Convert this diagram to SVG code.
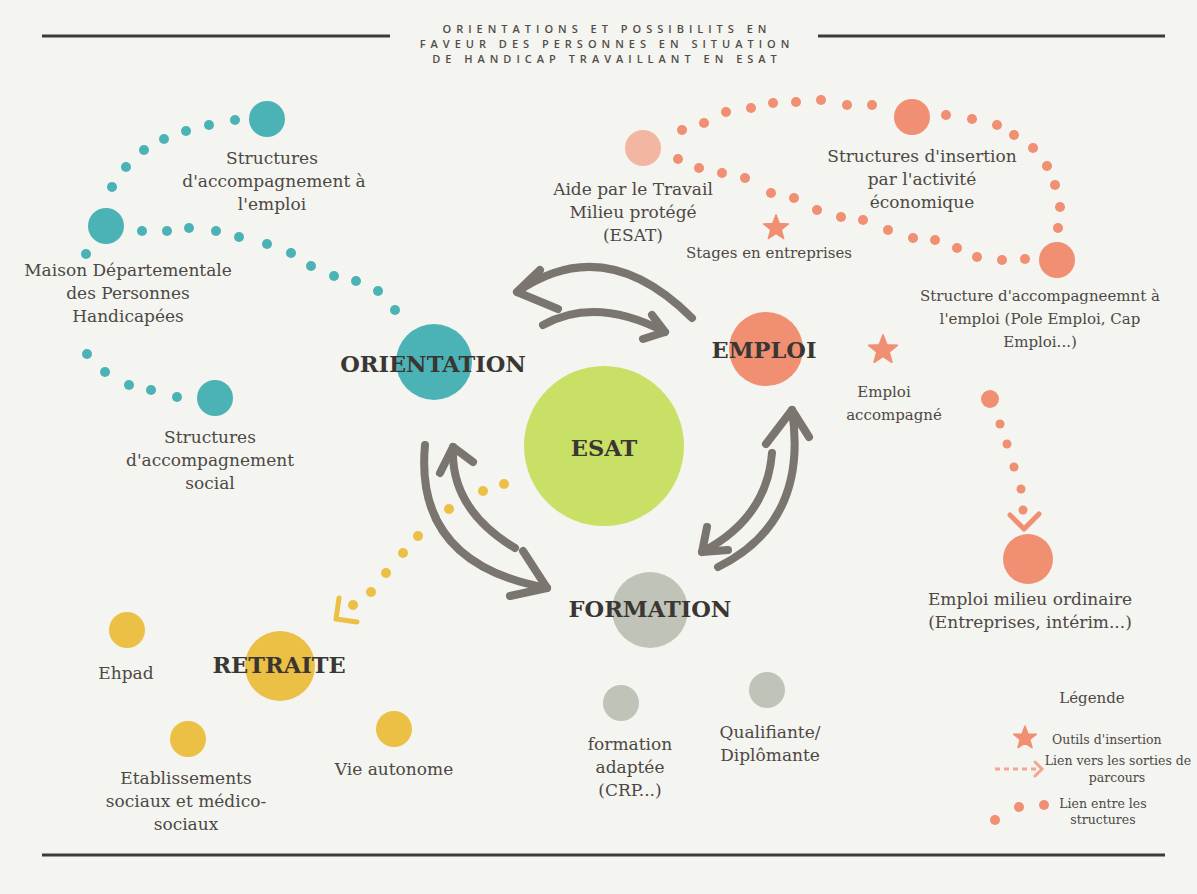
<svg xmlns="http://www.w3.org/2000/svg" width="1197" height="894" viewBox="0 0 1197 894">
<style>
.lbl{font-family:"DejaVu Serif","Liberation Serif",serif;font-size:17px;fill:#4d4844;text-anchor:middle}
.sm{font-size:15px}
.big{font-family:"DejaVu Serif","Liberation Serif",serif;font-size:22.5px;font-weight:bold;fill:#3a3633;text-anchor:middle}
.ttl{font-family:"Open Sans","Liberation Sans",sans-serif;font-size:11px;font-weight:600;fill:#524d49;text-anchor:middle;letter-spacing:5px}
.leg{font-family:"DejaVu Serif","Liberation Serif",serif;font-size:12.5px;fill:#4d4844}
.rule{stroke:#3d3a37;stroke-width:3}
.teal{fill:#4bb3b6}
.orange{fill:#f08f72}
.pale{fill:#f2b6a2}
.yellow{fill:#ecbf45}
.green{fill:#c9e066}
.grey{fill:#c0c3b8}
.arr{fill:none;stroke:#7a756f;stroke-width:8;stroke-linecap:round;stroke-linejoin:round}
.chev{fill:none;stroke-width:5;stroke-linecap:round;stroke-linejoin:round}
</style>
<defs>
<path id="star" d="M0,-10 L2.47,-3.4 L9.51,-3.09 L3.99,1.3 L5.88,8.09 L0,4.2 L-5.88,8.09 L-3.99,1.3 L-9.51,-3.09 L-2.47,-3.4 Z" fill="#f08f72" stroke="#f08f72" stroke-width="1.2" stroke-linejoin="round"/>
</defs>
<rect width="1197" height="894" fill="#f4f4f0"/>

<g id="title">
<line class="rule" x1="42" y1="36" x2="390" y2="36"/>
<line class="rule" x1="818" y1="36" x2="1165" y2="36"/>
<line class="rule" x1="42" y1="855" x2="1165" y2="855"/>
<text class="ttl" x="607" y="33">ORIENTATIONS ET POSSIBILITS EN</text>
<text class="ttl" x="607" y="48">FAVEUR DES PERSONNES EN SITUATION</text>
<text class="ttl" x="607" y="63">DE HANDICAP TRAVAILLANT EN ESAT</text>
</g>

<g id="connectors">
<g id="teal-dots" class="teal">
<circle cx="112" cy="187" r="5"/><circle cx="126" cy="167" r="5"/><circle cx="144" cy="150" r="5"/><circle cx="164" cy="139" r="5"/><circle cx="186" cy="131" r="5"/><circle cx="209" cy="125" r="5"/><circle cx="235" cy="120" r="5"/>
<circle cx="86" cy="254" r="5"/>
<circle cx="142" cy="231" r="5"/><circle cx="167" cy="231" r="5"/><circle cx="189" cy="228" r="5"/><circle cx="216" cy="231" r="5"/><circle cx="239" cy="237" r="5"/><circle cx="267" cy="244" r="5"/><circle cx="291" cy="253" r="5"/><circle cx="311" cy="266" r="5"/><circle cx="334" cy="276" r="5"/><circle cx="356" cy="281" r="5"/><circle cx="378" cy="291" r="5"/><circle cx="395" cy="310" r="5"/>
<circle cx="87" cy="354" r="5"/><circle cx="105" cy="372" r="5"/><circle cx="129" cy="385" r="5"/><circle cx="151" cy="390" r="5"/><circle cx="177" cy="397" r="5"/>
</g>
<g id="orange-dots" class="orange">
<circle cx="682" cy="130" r="5"/><circle cx="704" cy="123" r="5"/><circle cx="726" cy="112" r="5"/><circle cx="751" cy="108" r="5"/><circle cx="773" cy="103" r="5"/><circle cx="796" cy="102" r="5"/><circle cx="821" cy="100" r="5"/><circle cx="847" cy="105" r="5"/><circle cx="872" cy="105" r="5"/>
<circle cx="946" cy="115" r="5"/><circle cx="972" cy="119" r="5"/><circle cx="997" cy="125" r="5"/><circle cx="1014" cy="135" r="5"/><circle cx="1033" cy="148" r="5"/><circle cx="1047" cy="166" r="5"/><circle cx="1055" cy="185" r="5"/><circle cx="1060" cy="207" r="5"/><circle cx="1058" cy="228" r="5"/>
<circle cx="678" cy="159" r="5"/><circle cx="699" cy="168" r="5"/><circle cx="722" cy="173" r="5"/><circle cx="745" cy="178" r="5"/><circle cx="771" cy="193" r="5"/><circle cx="794" cy="198" r="5"/><circle cx="817" cy="210" r="5"/><circle cx="841" cy="217" r="5"/><circle cx="863" cy="220" r="5"/><circle cx="888" cy="230" r="5"/><circle cx="913" cy="238" r="5"/><circle cx="935" cy="240" r="5"/><circle cx="957" cy="248" r="5"/><circle cx="977" cy="257" r="5"/><circle cx="1002" cy="260" r="5"/><circle cx="1025" cy="259" r="5"/>
<circle cx="990" cy="399" r="9"/><circle cx="1000" cy="424" r="4.5"/><circle cx="1007" cy="444" r="4.5"/><circle cx="1014" cy="467" r="4.5"/><circle cx="1021" cy="489" r="4.5"/><circle cx="1023" cy="510" r="4.5"/>
</g>
<polyline class="chev" stroke="#f08f72" points="1010,515 1024,529 1039,514"/>
<g id="yellow-dots" class="yellow">
<circle cx="504" cy="484" r="5"/><circle cx="483" cy="491" r="5"/><circle cx="449" cy="509" r="5"/><circle cx="418" cy="536" r="5"/><circle cx="403" cy="553" r="5"/><circle cx="386" cy="573" r="5"/><circle cx="371" cy="592" r="5"/><circle cx="353" cy="605" r="5"/>
</g>
<polyline class="chev" stroke="#ecbf45" points="339,598 336,619 357,622"/>
<g id="cycle-arrows">
<path class="arr" d="M692,318 Q605,231 517,292"/>
<polyline class="arr" points="540,270 517,292 558,309"/>
<path class="arr" d="M543,325 Q596,296 665,332"/>
<polyline class="arr" points="652,315 665,332 643,339"/>
<path class="arr" d="M425,445 Q414,564 547,588"/>
<polyline class="arr" points="523,551 547,588 510,596"/>
<path class="arr" d="M515,548 Q450,509 453,447"/>
<polyline class="arr" points="440,473 453,447 473,462"/>
<path class="arr" d="M718,567 Q809,522 792,410"/>
<polyline class="arr" points="766,444 792,410 809,437"/>
<path class="arr" d="M772,453 Q767,518 702,552"/>
<polyline class="arr" points="707,527 702,552 728,550"/>
</g>
</g>

<g id="node-esat"><circle class="green" cx="604" cy="446" r="80"/><text class="big" x="604" y="456">ESAT</text></g>
<g id="node-orientation"><circle class="teal" cx="434" cy="362" r="38"/><text class="big" x="433" y="372">ORIENTATION</text></g>
<g id="node-emploi"><circle class="orange" cx="766" cy="349" r="37"/><text class="big" x="764" y="358">EMPLOI</text></g>
<g id="node-formation"><circle class="grey" cx="650" cy="610" r="38"/><text class="big" x="650" y="617">FORMATION</text></g>
<g id="node-retraite"><circle class="yellow" cx="280" cy="666" r="35"/><text class="big" x="279" y="673">RETRAITE</text></g>

<g id="node-struct-emploi"><circle class="teal" cx="267" cy="119" r="18"/>
<text class="lbl" x="272" y="164">Structures</text><text class="lbl" x="274" y="187">d'accompagnement à</text><text class="lbl" x="272" y="210">l'emploi</text></g>
<g id="node-mdph"><circle class="teal" cx="106" cy="226" r="18"/>
<text class="lbl" x="128" y="276">Maison Départementale</text><text class="lbl" x="128" y="299">des Personnes</text><text class="lbl" x="128" y="322">Handicapées</text></g>
<g id="node-struct-social"><circle class="teal" cx="215" cy="398" r="18"/>
<text class="lbl" x="210" y="443">Structures</text><text class="lbl" x="210" y="466">d'accompagnement</text><text class="lbl" x="210" y="489">social</text></g>

<g id="node-esat-milieu"><circle class="pale" cx="643" cy="148" r="18"/>
<text class="lbl" x="633" y="195">Aide par le Travail</text><text class="lbl" x="633" y="218">Milieu protégé</text><text class="lbl" x="633" y="241">(ESAT)</text></g>
<g id="node-siae"><circle class="orange" cx="912" cy="117" r="18"/>
<text class="lbl" x="922" y="162">Structures d'insertion</text><text class="lbl" x="922" y="185">par l'activité</text><text class="lbl" x="922" y="208">économique</text></g>
<g id="node-stages"><use href="#star" transform="translate(776,228) scale(1.3)"/>
<text class="lbl sm" x="769" y="258">Stages en entreprises</text></g>
<g id="node-pole-emploi"><circle class="orange" cx="1057" cy="260" r="18"/>
<text class="lbl sm" x="1040" y="301">Structure d'accompagneemnt à</text><text class="lbl sm" x="1040" y="324">l'emploi (Pole Emploi, Cap</text><text class="lbl sm" x="1040" y="347">Emploi...)</text></g>
<g id="node-emploi-accomp"><use href="#star" transform="translate(883,350) scale(1.5)"/>
<text class="lbl sm" x="884" y="397">Emploi</text><text class="lbl sm" x="894" y="420">accompagné</text></g>
<g id="node-milieu-ordinaire"><circle class="orange" cx="1028" cy="559" r="25"/>
<text class="lbl" x="1030" y="605">Emploi milieu ordinaire</text><text class="lbl" x="1030" y="628">(Entreprises, intérim...)</text></g>

<g id="node-ehpad"><circle class="yellow" cx="127" cy="630" r="18"/><text class="lbl" x="126" y="679">Ehpad</text></g>
<g id="node-etab"><circle class="yellow" cx="188" cy="739" r="18"/>
<text class="lbl" x="186" y="784">Etablissements</text><text class="lbl" x="186" y="807">sociaux et médico-</text><text class="lbl" x="186" y="830">sociaux</text></g>
<g id="node-vie"><circle class="yellow" cx="394" cy="729" r="18"/><text class="lbl" x="394" y="775">Vie autonome</text></g>

<g id="node-form-adaptee"><circle class="grey" cx="621" cy="703" r="18"/>
<text class="lbl" x="630" y="750">formation</text><text class="lbl" x="630" y="773">adaptée</text><text class="lbl" x="630" y="796">(CRP...)</text></g>
<g id="node-qualif"><circle class="grey" cx="767" cy="690" r="18"/>
<text class="lbl" x="770" y="738">Qualifiante/</text><text class="lbl" x="770" y="761">Diplômante</text></g>

<g id="legend">
<text class="leg" x="1092" y="703" text-anchor="middle" style="font-size:15px">Légende</text>
<use href="#star" transform="translate(1025,738) scale(1.2)"/>
<text class="leg" x="1052" y="744">Outils d'insertion</text>
<line x1="995" y1="769" x2="1040" y2="769" stroke="#f4a58e" stroke-width="3" stroke-dasharray="5 4"/>
<polyline points="1035,762 1042,769 1035,776" fill="none" stroke="#f4a58e" stroke-width="3" stroke-linecap="round"/>
<text class="leg" x="1118" y="765" text-anchor="middle">Lien vers les sorties de</text>
<text class="leg" x="1117" y="782" text-anchor="middle">parcours</text>
<circle class="orange" cx="995" cy="820" r="5"/><circle class="orange" cx="1019" cy="807" r="5"/><circle class="orange" cx="1044" cy="805" r="5"/>
<text class="leg" x="1103" y="808" text-anchor="middle">Lien entre les</text>
<text class="leg" x="1103" y="824" text-anchor="middle">structures</text>
</g>
</svg>
